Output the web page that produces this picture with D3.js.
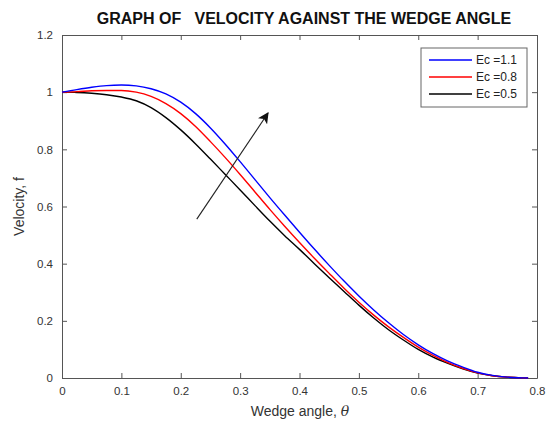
<!DOCTYPE html>
<html>
<head>
<meta charset="utf-8">
<script src="https://cdn.jsdelivr.net/npm/d3@7"></script>
<style>
  html, body { margin: 0; padding: 0; background: #fff; }
  svg { display: block; font-family: "Liberation Sans", Arial, Helvetica, sans-serif; }
</style>
</head>
<body>
<svg id="chart" width="550" height="429"></svg>
<script>
// ---- data ----
const theta = [0, 0.025, 0.05, 0.075, 0.1, 0.125, 0.15, 0.175, 0.2, 0.225, 0.25, 0.275, 0.3, 0.325, 0.35, 0.375, 0.4, 0.425, 0.45, 0.475, 0.5, 0.525, 0.55, 0.575, 0.6, 0.625, 0.65, 0.675, 0.7, 0.725, 0.75, 0.775, 0.785];
const ec11 = [1.000, 1.009, 1.017, 1.023, 1.025, 1.022, 1.012, 0.994, 0.965, 0.925, 0.875, 0.818, 0.757, 0.694, 0.631, 0.570, 0.510, 0.451, 0.394, 0.339, 0.287, 0.238, 0.193, 0.152, 0.116, 0.085, 0.059, 0.038, 0.020, 0.009, 0.003, 0.0005, 0];
const ec08 = [1.000, 1.002, 1.005, 1.006, 1.006, 1.000, 0.985, 0.960, 0.925, 0.880, 0.827, 0.771, 0.712, 0.651, 0.590, 0.531, 0.474, 0.419, 0.366, 0.314, 0.265, 0.220, 0.179, 0.142, 0.108, 0.079, 0.054, 0.034, 0.018, 0.008, 0.003, 0.0005, 0];
const ec05 = [1.000, 0.999, 0.996, 0.991, 0.983, 0.970, 0.946, 0.911, 0.868, 0.819, 0.766, 0.712, 0.658, 0.603, 0.549, 0.498, 0.450, 0.400, 0.351, 0.303, 0.255, 0.210, 0.169, 0.133, 0.100, 0.073, 0.051, 0.032, 0.017, 0.008, 0.003, 0.0005, 0];
const seriesNames = ["Ec =1.1", "Ec =0.8", "Ec =0.5"];
const seriesColors = ["#0000ff", "#ff0000", "#000000"];
const xTicks = [0, 0.1, 0.2, 0.3, 0.4, 0.5, 0.6, 0.7, 0.8];
const yTicks = [0, 0.2, 0.4, 0.6, 0.8, 1, 1.2];
const arrowFrom = [0.227, 0.556];
const arrowTo = [0.347, 0.927];
const titleText = "GRAPH OF   VELOCITY AGAINST THE WEDGE ANGLE";

// ---- layout ----
const svg = d3.select("#chart");
const L = 62, R = 537, T = 35, B = 378;
const x = d3.scaleLinear().domain([0, 0.8]).range([L, R]);
const y = d3.scaleLinear().domain([0, 1.2]).range([B, T]);
const axisColor = "#555";
const textColor = "#333";

svg.append("rect").attr("x", L).attr("y", T).attr("width", R - L).attr("height", B - T)
  .attr("fill", "#fff");

function styleAxis(g) {
  g.select(".domain").attr("stroke", axisColor);
  g.selectAll(".tick line").attr("stroke", axisColor);
  g.selectAll(".tick text").attr("fill", textColor).style("font-size", "11.5px")
    .style("font-family", "Liberation Sans, Arial, sans-serif");
}
const fmt = d => d3.format("")(+d.toFixed(1));
svg.append("g").attr("transform", `translate(0,${B})`)
  .call(d3.axisBottom(x).tickValues(xTicks).tickFormat(fmt).tickSizeInner(-5).tickSizeOuter(0).tickPadding(9))
  .call(styleAxis);
svg.append("g").attr("transform", `translate(0,${T})`)
  .call(d3.axisTop(x).tickValues(xTicks).tickFormat("").tickSizeInner(-5).tickSizeOuter(0))
  .call(styleAxis);
svg.append("g").attr("transform", `translate(${L},0)`)
  .call(d3.axisLeft(y).tickValues(yTicks).tickFormat(fmt).tickSizeInner(-5).tickSizeOuter(0).tickPadding(9))
  .call(styleAxis);
svg.append("g").attr("transform", `translate(${R},0)`)
  .call(d3.axisRight(y).tickValues(yTicks).tickFormat("").tickSizeInner(-5).tickSizeOuter(0))
  .call(styleAxis);

// lines
const allSeries = [ec11, ec08, ec05];
const line = d3.line().x((d, i) => x(theta[i])).y(d => y(d)).curve(d3.curveMonotoneX);
[2, 1, 0].forEach(idx => {
  svg.append("path").datum(allSeries[idx]).attr("d", line)
    .attr("fill", "none").attr("stroke", seriesColors[idx]).attr("stroke-width", 1.4);
});

// arrow
svg.append("defs").append("marker").attr("id", "ah").attr("viewBox", "0 0 10 10")
  .attr("refX", 9).attr("refY", 5).attr("markerWidth", 11).attr("markerHeight", 11)
  .attr("markerUnits", "userSpaceOnUse").attr("orient", "auto")
  .append("path").attr("d", "M0,0 L10,5 L0,10 L2.5,5 Z").attr("fill", "#111");
svg.append("line")
  .attr("x1", x(arrowFrom[0])).attr("y1", y(arrowFrom[1]))
  .attr("x2", x(arrowTo[0])).attr("y2", y(arrowTo[1]))
  .attr("stroke", "#222").attr("stroke-width", 1.1).attr("marker-end", "url(#ah)");

// legend
const lg = svg.append("g");
lg.append("rect").attr("x", 421).attr("y", 48).attr("width", 106).attr("height", 59)
  .attr("fill", "#fff").attr("stroke", "#666").attr("stroke-width", 1);
seriesNames.forEach((n, i) => {
  const yy = 60 + i * 17;
  lg.append("line").attr("x1", 429).attr("x2", 472).attr("y1", yy).attr("y2", yy)
    .attr("stroke", seriesColors[i]).attr("stroke-width", 1.4);
  lg.append("text").attr("x", 476).attr("y", yy + 4).text(n)
    .attr("fill", "#222").style("font-size", "12px");
});

// title
svg.append("text").attr("x", 304).attr("y", 24).attr("text-anchor", "middle")
  .style("font-size", "16px").style("font-weight", "bold").style("white-space", "pre")
  .attr("fill", "#111").text(titleText);

// axis labels
const xl = svg.append("text").attr("x", 300).attr("y", 416).attr("text-anchor", "middle")
  .style("font-size", "14px").attr("fill", "#333");
xl.append("tspan").text("Wedge angle, ");
xl.append("tspan").style("font-style", "italic").style("font-family", "DejaVu Serif, serif").text("θ");
svg.append("text").attr("transform", `translate(24,${(T + B) / 2}) rotate(-90)`)
  .attr("text-anchor", "middle").style("font-size", "14px").attr("fill", "#333")
  .text("Velocity, f");
</script>
</body>
</html>
